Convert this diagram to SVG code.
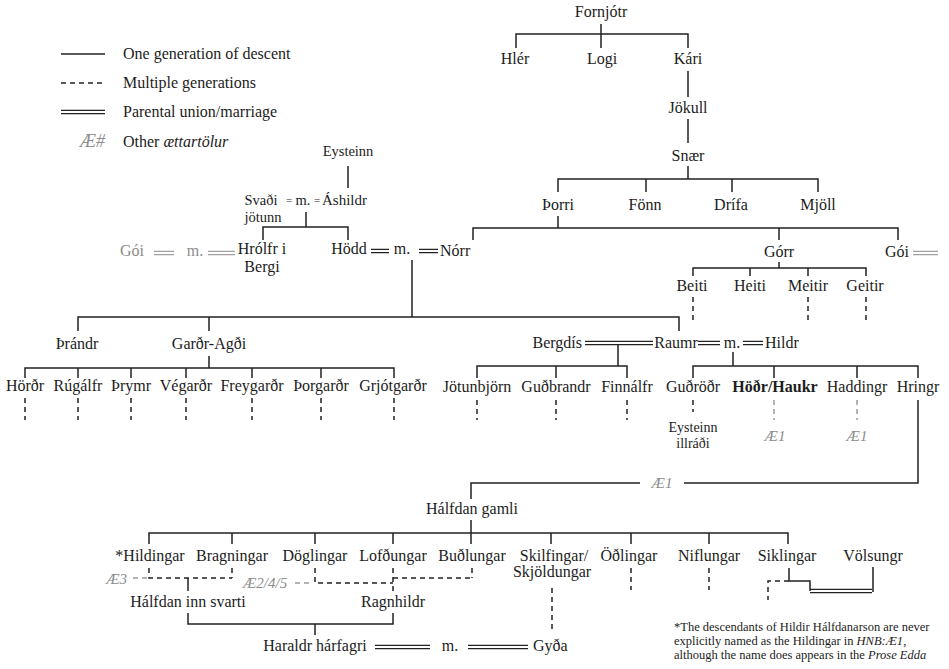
<svg xmlns="http://www.w3.org/2000/svg" width="949" height="669" viewBox="0 0 949 669">
<style>
text{font-family:'Liberation Serif','Times New Roman',serif;font-size:16px;fill:#1c1c1c;text-anchor:middle}
.st{text-anchor:start}
.en{text-anchor:end}
.sm{font-size:14.5px}
.eq{font-size:11px}
.gr{fill:#8c8c8c}
.ae{font-style:italic;fill:#8c8c8c;font-size:15px}
.b{font-weight:bold}
.fn{font-size:12.5px;text-anchor:start}
.l{stroke:#222;stroke-width:1.5;fill:none}
.d{stroke-dasharray:5 4}
.g{stroke:#9a9a9a}
.dbl{stroke:#222;stroke-width:1.2;fill:none}
.dg{stroke:#a0a0a0;stroke-width:1.2;fill:none}
</style>
<rect width="949" height="669" fill="#fff"/>
<g id="legend">
<path class="l" d="M61 54H105"/>
<path class="l d" d="M61 83H105"/>
<path class="dbl" d="M61 110.3H105M61 113.7H105"/>
<text class="st" x="123" y="59">One generation of descent</text>
<text class="st" x="123" y="88">Multiple generations</text>
<text class="st" x="123" y="117">Parental union/marriage</text>
<text class="en ae" x="105" y="147" style="font-size:18px">Æ#</text>
<text class="st" x="123" y="147">Other <tspan font-style="italic">ættartölur</tspan></text>
</g>
<g id="connectors">
<path class="l" d="M601 24V48M516 48V34H688V48"/>
<path class="l" d="M688 71V97M688 119V143M688 166V179M558 192V179H818V192M646 179V192M732 179V192"/>
<path class="l" d="M558 216V228M473 240V228H898V240M779 228V240"/>
<path class="dg" d="M913 251.3H938M913 254.7H938"/>
<path class="l" d="M779 262V268M693 276V268H866V276M750 268V276M808 268V276"/>
<path class="l d" d="M693 297V320M808 297V320M866 297V320"/>
<path class="l" d="M348 166V188M306 212V227M263 240V227H348V240"/>
<path class="dg" d="M154 251.3H174M154 254.7H174M208 251.3H235M208 254.7H235"/>
<path class="dbl" d="M371 249.3H389M371 252.7H389M419 249.3H438M419 252.7H438"/>
<path class="l" d="M412 260V317M78 331V317H679V331M209 317V331"/>
<path class="l" d="M209 356V368M25 378V368H394V378M78 368V378M131 368V378M186 368V378M252 368V378M321 368V378"/>
<path class="l d" d="M25 398V420M78 398V420M131 398V420M186 398V420M252 398V420M321 398V420M394 398V420"/>
<path class="dbl" d="M585 341.3H653M585 344.7H653M698 341.3H720M698 344.7H720M743 341.3H763M743 344.7H763"/>
<path class="l" d="M618 345V366M477 378V366H627V378M556 366V378"/>
<path class="l" d="M733 352V366M693 378V366H918V378M774 366V378M857 366V378"/>
<path class="l d" d="M477 400V420M556 400V420M627 400V420M693 400V412"/>
<path class="l d g" d="M774 400V420M857 400V420"/>
<path class="l" d="M918 400V483H684M640 483H471V499"/>
<path class="l" d="M471 520V544M149 544V533H788V544M232 533V544M315 533V544M393 533V544M551 533V544M631 533V544M709 533V544"/>
<path class="l d" d="M149 568V578H232M232 568V578"/>
<path class="l d g" d="M133 578H147"/>
<path class="l" d="M188 578V591"/>
<path class="l d" d="M315 568V583H393M393 568V592M393 578H472M472 568V578"/>
<path class="l d g" d="M295 583H313"/>
<path class="l" d="M188 613V624H393V613M315 624V635"/>
<path class="dbl" d="M375 645.3H430M375 648.7H430M468 645.3H528M468 648.7H528"/>
<path class="l d" d="M552 588V633M631 568V590M709 568V590"/>
<path class="l" d="M789 568V581H810V591M873 567V592"/>
<path class="dbl" d="M810 589.3H872M810 592.7H872"/>
<path class="l d" d="M789 581H768V600"/>
</g>
<g id="n-fornjotr"><text x="601" y="17">Fornjótr</text></g>
<g id="n-hler"><text x="515" y="64">Hlér</text></g>
<g id="n-logi"><text x="602" y="64">Logi</text></g>
<g id="n-kari"><text x="688" y="64">Kári</text></g>
<g id="n-jokull"><text x="688" y="113">Jökull</text></g>
<g id="n-snaer"><text x="688" y="161">Snær</text></g>
<g id="n-thorri"><text x="558" y="210">Þorri</text></g>
<g id="n-fonn"><text x="645" y="210">Fönn</text></g>
<g id="n-drifa"><text x="731" y="210">Drífa</text></g>
<g id="n-mjoll"><text x="818" y="210">Mjöll</text></g>
<g id="n-norr"><text class="st" x="440" y="256">Nórr</text></g>
<g id="n-gorr"><text x="779" y="257">Górr</text></g>
<g id="n-goi-r"><text x="897" y="257">Gói</text></g>
<g id="n-beiti"><text x="692" y="291">Beiti</text></g>
<g id="n-heiti"><text x="750" y="291">Heiti</text></g>
<g id="n-meitir"><text x="808" y="291">Meitir</text></g>
<g id="n-geitir"><text x="865" y="291">Geitir</text></g>
<g id="n-eysteinn"><text class="sm" x="348" y="156">Eysteinn</text></g>
<g id="n-svadi"><text class="sm" x="261" y="205">Svaði</text><text class="sm" x="263" y="222">jötunn</text></g>
<g id="m-svadi"><text class="eq" x="289" y="204">=</text><text class="sm" x="303" y="205">m.</text><text class="eq" x="317" y="204">=</text></g>
<g id="n-ashildr"><text class="st" x="322" y="205" style="font-size:15px">Áshildr</text></g>
<g id="n-goi-l"><text class="gr" x="132" y="256">Gói</text></g>
<g id="m-goi"><text class="gr" x="195" y="256">m.</text></g>
<g id="n-hrolfr"><text x="262" y="254">Hrólfr i</text><text x="262" y="272">Bergi</text></g>
<g id="n-hodd"><text x="349" y="254">Hödd</text></g>
<g id="m-hodd"><text x="402" y="254">m.</text></g>
<g id="n-thrandr"><text x="77" y="349">Þrándr</text></g>
<g id="n-gardr"><text x="209" y="349">Garðr-Agði</text></g>
<g id="n-hordr"><text x="25" y="391">Hörðr</text></g>
<g id="n-rugalfr"><text x="78" y="391">Rúgálfr</text></g>
<g id="n-thrymr"><text x="131" y="391">Þrymr</text></g>
<g id="n-vegardr"><text x="186" y="391">Végarðr</text></g>
<g id="n-freygardr"><text x="252" y="391">Freygarðr</text></g>
<g id="n-thorgardr"><text x="321" y="391">Þorgarðr</text></g>
<g id="n-grjotgardr"><text x="393" y="391">Grjótgarðr</text></g>
<g id="n-bergdis"><text class="en" x="582" y="348">Bergdís</text></g>
<g id="n-raumr"><text x="676" y="348">Raumr</text></g>
<g id="m-raumr"><text x="732" y="348">m.</text></g>
<g id="n-hildr"><text class="st" x="765" y="348">Hildr</text></g>
<g id="n-jotunbjorn"><text x="477" y="392">Jötunbjörn</text></g>
<g id="n-gudbrandr"><text x="556" y="392">Guðbrandr</text></g>
<g id="n-finnalfr"><text x="627" y="392">Finnálfr</text></g>
<g id="n-gudrodr"><text x="693" y="392">Guðröðr</text></g>
<g id="n-hodr"><text class="b" x="775" y="392">Höðr/Haukr</text></g>
<g id="n-haddingr"><text x="857" y="392">Haddingr</text></g>
<g id="n-hringr"><text x="918" y="392">Hringr</text></g>
<g id="n-eysteinn-i"><text x="693" y="432" style="font-size:14px">Eysteinn</text><text x="693" y="448" style="font-size:14px">illráði</text></g>
<g id="ae1-a"><text class="ae" x="775" y="441">Æ1</text></g>
<g id="ae1-b"><text class="ae" x="857" y="441">Æ1</text></g>
<g id="ae1-c"><text class="ae" x="662" y="488">Æ1</text></g>
<g id="n-halfdan"><text x="472" y="514">Hálfdan gamli</text></g>
<g id="n-hildingar"><text x="150" y="561">*Hildingar</text></g>
<g id="n-bragningar"><text x="232" y="561">Bragningar</text></g>
<g id="n-doglingar"><text x="315" y="561">Döglingar</text></g>
<g id="n-lofdungar"><text x="393" y="561">Lofðungar</text></g>
<g id="n-budlungar"><text x="472" y="561">Buðlungar</text></g>
<g id="n-skilfingar"><text x="554" y="561">Skilfingar/</text><text x="552" y="577">Skjöldungar</text></g>
<g id="n-odlingar"><text x="629" y="561">Öðlingar</text></g>
<g id="n-niflungar"><text x="709" y="561">Niflungar</text></g>
<g id="n-siklingar"><text x="787" y="561">Siklingar</text></g>
<g id="n-volsungr"><text x="873" y="561">Völsungr</text></g>
<g id="ae3"><text class="ae en" x="127" y="584">Æ3</text></g>
<g id="ae245"><text class="ae st" x="243" y="588">Æ2/4/5</text></g>
<g id="n-halfdan-svarti"><text x="188" y="607">Hálfdan inn svarti</text></g>
<g id="n-ragnhildr"><text x="393" y="607">Ragnhildr</text></g>
<g id="n-haraldr"><text x="315" y="651">Haraldr hárfagri</text></g>
<g id="m-haraldr"><text x="450" y="651">m.</text></g>
<g id="n-gyda"><text class="st" x="533" y="651">Gyða</text></g>
<g id="footnote">
<text class="fn" x="674" y="631">*The descendants of Hildir Hálfdanarson are never</text>
<text class="fn" x="674" y="645">explicitly named as the Hildingar in <tspan font-style="italic">HNB:Æ1</tspan>,</text>
<text class="fn" x="674" y="659">although the name does appears in the <tspan font-style="italic">Prose Edda</tspan></text>
</g>
</svg>
